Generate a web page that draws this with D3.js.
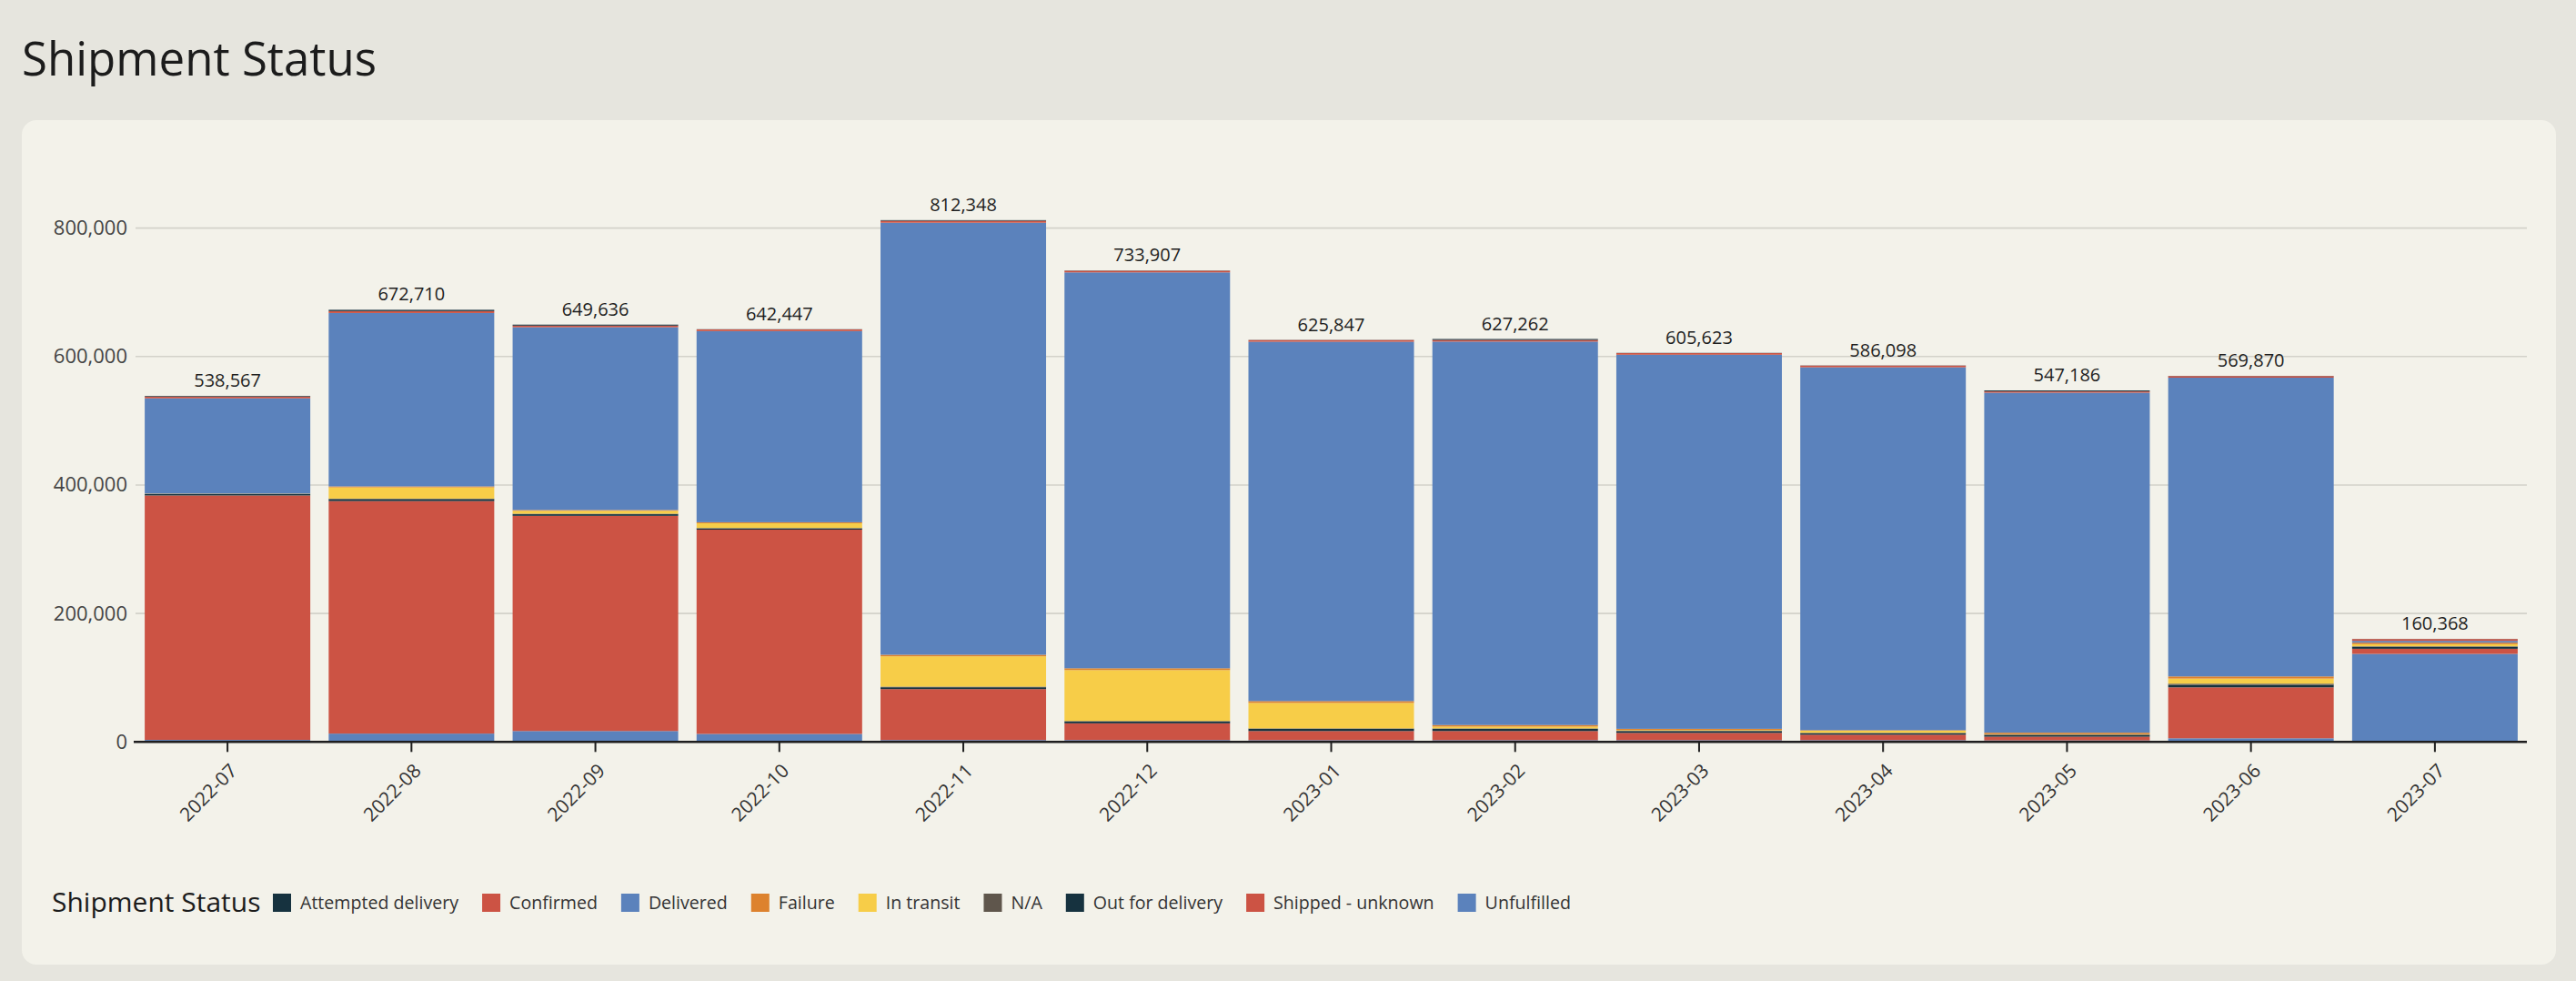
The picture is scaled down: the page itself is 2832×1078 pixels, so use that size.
<!DOCTYPE html>
<html lang="en">
<head>
<meta charset="utf-8">
<title>Shipment Status</title>
<script src="https://d3js.org/d3.v7.min.js"></script>
<style>
    body {
        margin: 0;
        background: #e6e5de;
        font-family: "Open Sans", sans-serif;
    }
    svg { display: block; }
    .grid line { stroke: #d3d2ca; stroke-width: 1.6px; }
</style>
</head>
<body>
<svg id="chart" width="2832" height="1078"></svg>
<script>
// months on the x axis
const months = ["2022-07", "2022-08", "2022-09", "2022-10", "2022-11", "2022-12",
    "2023-01", "2023-02", "2023-03", "2023-04", "2023-05", "2023-06", "2023-07"];

// legend order (alphabetical); stacked bottom-up in reverse
const statuses = ["Attempted delivery", "Confirmed", "Delivered", "Failure", "In transit",
    "N/A", "Out for delivery", "Shipped - unknown", "Unfulfilled"];
const statusColors = ["#16323f", "#cc5344", "#5b82bc", "#dd822e", "#f7cd48",
    "#5f564c", "#16323f", "#cc5344", "#5b82bc"];

// values per status, one entry per month
const attemptedDelivery = [967, 1910, 1500, 300, 1000, 400, 300, 1500, 300, 300, 1500, 300, 200];
const confirmed = [2600, 3000, 2500, 2500, 3000, 2500, 2500, 2500, 2500, 2500, 2000, 2500, 2800];
const delivered = [148300, 270000, 284636, 297647, 672648, 616307, 559447, 596962, 582423, 564998, 529286, 465070, 2800];
const failure = [100, 1500, 1200, 1500, 2400, 2800, 2800, 2400, 2000, 800, 2400, 3300, 2400];
const inTransit = [300, 17500, 4500, 7500, 47200, 79300, 39700, 2800, 1000, 3300, 500, 8000, 3300];
const notAvailable = [200, 800, 800, 500, 1000, 800, 800, 800, 500, 500, 500, 1900, 500];
const outForDelivery = [2400, 3000, 2500, 2000, 2800, 2800, 3300, 3300, 2800, 2400, 2800, 3800, 3300];
const shippedUnknown = [380500, 362000, 335000, 318000, 79300, 26000, 14200, 14200, 11300, 8500, 5700, 79300, 8000];
const unfulfilled = [3200, 13000, 17000, 12500, 3000, 3000, 2800, 2800, 2800, 2800, 2500, 5700, 137068];

const yTicks = [0, 200000, 400000, 600000, 800000];

const seriesValues = [attemptedDelivery, confirmed, delivered, failure, inTransit,
    notAvailable, outForDelivery, shippedUnknown, unfulfilled];

// build table rows for d3.stack
const rows = months.map((m, i) => {
    const row = {month: m};
    statuses.forEach((s, j) => row[s] = seriesValues[j][i]);
    row.total = d3.sum(seriesValues, v => v[i]);
    return row;
});

const svg = d3.select("#chart");
const fmt = d3.format(",");

// title + card
svg.append("text")
    .attr("x", 24)
    .attr("y", 83)
    .attr("fill", "#1c1c1c")
    .style("font-size", "51px")
    .text("Shipment Status");

svg.append("rect")
    .attr("x", 24)
    .attr("y", 132)
    .attr("width", 2786)
    .attr("height", 928)
    .attr("rx", 16)
    .attr("fill", "#f3f2ea");

const plotLeft = 149, plotRight = 2778, plotBottom = 815.3;

const x = d3.scaleBand()
    .domain(months)
    .range([plotLeft, plotRight])
    .paddingInner(0.1)
    .paddingOuter(0.05);

const y = d3.scaleLinear()
    .domain([0, 800000])
    .range([plotBottom, 250.6]);

// gridlines
svg.append("g")
    .attr("class", "grid")
    .selectAll("line")
    .data(yTicks.slice(1))
    .join("line")
    .attr("x1", plotLeft)
    .attr("x2", plotRight)
    .attr("y1", d => y(d))
    .attr("y2", d => y(d));

// y axis labels
const yAxis = svg.append("g")
    .attr("transform", `translate(${plotLeft},0)`)
    .call(d3.axisLeft(y).tickValues(yTicks).tickFormat(fmt).tickSize(0).tickPadding(9));
yAxis.select(".domain").remove();
yAxis.selectAll("text")
    .attr("fill", "#444")
    .style("font-size", "22px")
    .style("font-family", "'Open Sans', sans-serif");

// stacked bars
const stackKeys = statuses.slice().reverse();
const stacked = d3.stack().keys(stackKeys)(rows);
const color = d3.scaleOrdinal().domain(statuses).range(statusColors);

svg.append("g")
    .selectAll("g")
    .data(stacked)
    .join("g")
    .attr("fill", d => color(d.key))
    .selectAll("rect")
    .data(d => d)
    .join("rect")
    .attr("x", d => x(d.data.month))
    .attr("width", x.bandwidth())
    .attr("y", d => y(d[1]))
    .attr("height", d => y(d[0]) - y(d[1]));

// total labels
svg.append("g")
    .selectAll("text")
    .data(rows)
    .join("text")
    .attr("x", d => x(d.month) + x.bandwidth() / 2)
    .attr("y", d => y(d.total) - 10)
    .attr("text-anchor", "middle")
    .attr("fill", "#1e1e1e")
    .style("font-size", "20px")
    .text(d => fmt(d.total));

// x axis
const xAxis = svg.append("g")
    .attr("transform", `translate(0,${plotBottom})`)
    .call(d3.axisBottom(x).tickSize(11).tickSizeOuter(0));
xAxis.select(".domain")
    .attr("stroke", "#1e1e1e")
    .attr("stroke-width", 2.5)
    .attr("d", `M${plotLeft - 2},0H${plotRight}`);
xAxis.selectAll(".tick line")
    .attr("stroke", "#1e1e1e")
    .attr("stroke-width", 2);
xAxis.selectAll(".tick text")
    .attr("fill", "#333")
    .style("font-size", "21px")
    .style("font-family", "'Open Sans', sans-serif")
    .attr("text-anchor", "end")
    .attr("y", 0)
    .attr("dy", 0)
    .attr("transform", "translate(12,33) rotate(-45)");

// legend
const legend = svg.append("g").attr("transform", "translate(0,992)");
legend.append("text")
    .attr("x", 57)
    .attr("y", 10)
    .attr("fill", "#1c1c1c")
    .style("font-size", "30px")
    .text("Shipment Status");

let lx = 300;
statuses.forEach((s, i) => {
    const item = legend.append("g").attr("transform", `translate(${lx},0)`);
    item.append("rect")
        .attr("x", 0)
        .attr("y", -10)
        .attr("width", 20)
        .attr("height", 20)
        .attr("fill", statusColors[i]);
    const t = item.append("text")
        .attr("x", 30)
        .attr("y", 7)
        .attr("fill", "#333")
        .style("font-size", "19.6px")
        .text(s);
    lx += 30 + t.node().getComputedTextLength() + 26;
});
</script>
</body>
</html>
